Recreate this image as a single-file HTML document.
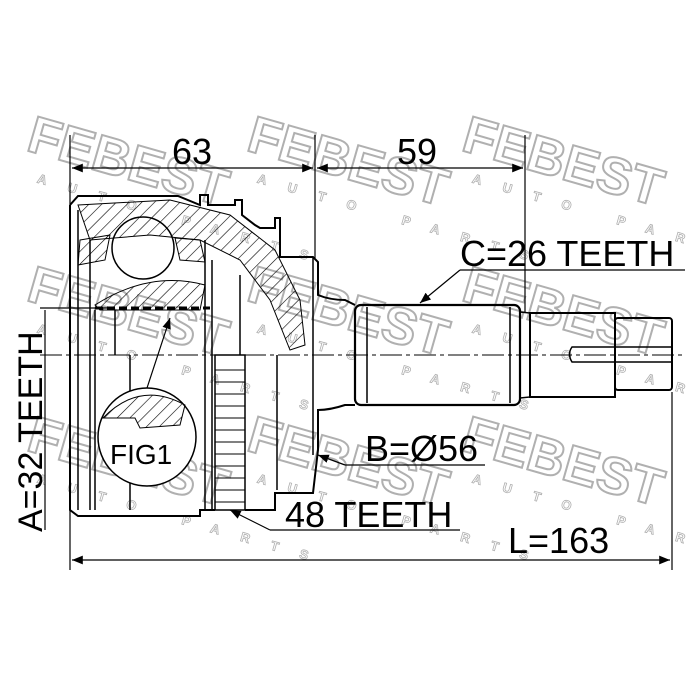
<!DOCTYPE html>
<html><head><style>
html,body{margin:0;padding:0;background:#fff}
svg{display:block}
text{font-family:"Liberation Sans",Arial,sans-serif}
</style></head><body>
<svg width="700" height="700" viewBox="0 0 700 700" xmlns="http://www.w3.org/2000/svg">
<defs>
<marker id="ar" viewBox="0 0 10 10" refX="10" refY="5" markerWidth="9" markerHeight="9" orient="auto-start-reverse"><path d="M0,1 L10,5 L0,9 z" fill="#000"/></marker>
<pattern id="hatch" width="9" height="9" patternUnits="userSpaceOnUse" patternTransform="rotate(45)"><line x1="0" y1="0" x2="0" y2="9" stroke="#000" stroke-width="1.2"/></pattern>
</defs>
<g fill="none" stroke="#b0b0b0" stroke-width="2" font-weight="bold">
 <g transform="translate(25,150) rotate(16)"><text x="0" y="0" font-size="52">FEBEST</text><text x="20" y="28" font-size="13" stroke-width="0.8" letter-spacing="22">AUTO PARTS</text></g>
 <g transform="translate(245,150) rotate(16)"><text x="0" y="0" font-size="52">FEBEST</text><text x="20" y="28" font-size="13" stroke-width="0.8" letter-spacing="22">AUTO PARTS</text></g>
 <g transform="translate(460,150) rotate(16)"><text x="0" y="0" font-size="52">FEBEST</text><text x="20" y="28" font-size="13" stroke-width="0.8" letter-spacing="22">AUTO PARTS</text></g>
 <g transform="translate(25,300) rotate(16)"><text x="0" y="0" font-size="52">FEBEST</text><text x="20" y="28" font-size="13" stroke-width="0.8" letter-spacing="22">AUTO PARTS</text></g>
 <g transform="translate(245,300) rotate(16)"><text x="0" y="0" font-size="52">FEBEST</text><text x="20" y="28" font-size="13" stroke-width="0.8" letter-spacing="22">AUTO PARTS</text></g>
 <g transform="translate(460,300) rotate(16)"><text x="0" y="0" font-size="52">FEBEST</text><text x="20" y="28" font-size="13" stroke-width="0.8" letter-spacing="22">AUTO PARTS</text></g>
 <g transform="translate(25,450) rotate(16)"><text x="0" y="0" font-size="52">FEBEST</text><text x="20" y="28" font-size="13" stroke-width="0.8" letter-spacing="22">AUTO PARTS</text></g>
 <g transform="translate(245,450) rotate(16)"><text x="0" y="0" font-size="52">FEBEST</text><text x="20" y="28" font-size="13" stroke-width="0.8" letter-spacing="22">AUTO PARTS</text></g>
 <g transform="translate(460,450) rotate(16)"><text x="0" y="0" font-size="52">FEBEST</text><text x="20" y="28" font-size="13" stroke-width="0.8" letter-spacing="22">AUTO PARTS</text></g>
</g>

<g stroke="#000" fill="none" stroke-width="1.5">
 <path d="M78,205 L170,200 L230,215 L275,250 L300,300 L305,345 L290,350 L270,300 L240,260 L200,240 L150,235 L90,240 Z" fill="url(#hatch)" stroke-width="1"/>
 <path d="M80,240 L110,235 L105,260 L78,265 Z" fill="url(#hatch)" stroke-width="1"/>
 <path d="M175,238 L200,240 L205,262 L180,260 Z" fill="url(#hatch)" stroke-width="1"/>
 <path d="M95,305 Q150,270 205,285 L200,310 L100,310 Z" fill="url(#hatch)" stroke-width="1"/>
 <path d="M70,205 L78,196 L178,196 L200,205 L200,195 L208,195 L208,205 L235,205 L235,200 L242,200 L242,215 L255,225 L260,228 L275,228 L275,218 L280,218 L280,257 L313,257 L318,262 L318,295 Q330,300 345,300 L355,305" stroke-width="2"/>
 <path d="M70,205 L70,510 L78,516 L200,516 L200,510 L215,510" stroke-width="2"/>
 <path d="M245,510 L275,510 L275,493 L313,493 L318,450 L318,410 Q330,410 345,405 L355,405" stroke-width="2"/>
 <line x1="313" y1="257" x2="313" y2="455"/>
 <line x1="78" y1="210" x2="78" y2="510"/>
 <line x1="90" y1="240" x2="90" y2="510"/>
 <line x1="95" y1="310" x2="95" y2="510"/>
 <line x1="115" y1="310" x2="115" y2="355"/>
 <line x1="130" y1="355" x2="130" y2="510"/>
 <line x1="205" y1="240" x2="205" y2="510"/>
 <line x1="212" y1="260" x2="212" y2="510"/>
 <line x1="240" y1="275" x2="240" y2="355"/>
 <line x1="277" y1="355" x2="277" y2="490"/>
 <circle cx="143" cy="248" r="31"/>
 <line x1="95" y1="308" x2="210" y2="308" stroke-width="3" stroke-dasharray="8,4"/>
 <rect x="215" y="355" width="30" height="155"/>
 <g stroke-width="1">
  <line x1="215" y1="370" x2="245" y2="370"/><line x1="215" y1="382" x2="245" y2="382"/><line x1="215" y1="394" x2="245" y2="394"/><line x1="215" y1="406" x2="245" y2="406"/><line x1="215" y1="418" x2="245" y2="418"/><line x1="215" y1="430" x2="245" y2="430"/><line x1="215" y1="442" x2="245" y2="442"/><line x1="215" y1="454" x2="245" y2="454"/><line x1="215" y1="466" x2="245" y2="466"/><line x1="215" y1="478" x2="245" y2="478"/><line x1="215" y1="490" x2="245" y2="490"/><line x1="215" y1="502" x2="245" y2="502"/>
 </g>
 <rect x="355" y="305" width="165" height="100" rx="6" stroke-width="2.2"/>
 <line x1="367" y1="307" x2="367" y2="403"/>
 <line x1="510" y1="307" x2="510" y2="403"/>
 <path d="M520,312 L530,313 L530,397 L520,398"/>
 <rect x="530" y="313" width="85" height="84" stroke-width="2"/>
 <rect x="615" y="318" width="57" height="72" rx="3" stroke-width="2"/>
 <path d="M672,347 L572,347 Q567,354 572,362 L672,362"/>
 <circle cx="147" cy="437" r="49" fill="#fff"/>
 <path d="M103,418 Q140,380 185,405 L180,425 L140,428 L135,418 Z" fill="url(#hatch)" stroke-width="1"/>
 <line x1="147" y1="388" x2="170" y2="318" marker-end="url(#ar)" stroke-width="1.2"/>
 <line x1="40" y1="355" x2="685" y2="355" stroke-width="1" stroke-dasharray="22,4,4,4"/>
 <g stroke-width="1.2">
  <line x1="70" y1="135" x2="70" y2="570"/>
  <line x1="315" y1="135" x2="315" y2="258"/>
  <line x1="525" y1="135" x2="525" y2="312"/>
  <line x1="672" y1="392" x2="672" y2="570"/>
  <line x1="72" y1="168" x2="313" y2="168" marker-start="url(#ar)" marker-end="url(#ar)"/>
  <line x1="317" y1="168" x2="523" y2="168" marker-start="url(#ar)" marker-end="url(#ar)"/>
  <line x1="72" y1="560" x2="670" y2="560" marker-start="url(#ar)" marker-end="url(#ar)"/>
  <line x1="40" y1="308" x2="110" y2="308"/>
  <line x1="45" y1="310" x2="45" y2="530"/>
  <line x1="460" y1="270" x2="685" y2="270"/>
  <line x1="460" y1="270" x2="420" y2="303" marker-end="url(#ar)"/>
  <line x1="485" y1="465" x2="345" y2="465"/>
  <line x1="345" y1="465" x2="318" y2="455" marker-end="url(#ar)"/>
  <line x1="460" y1="530" x2="270" y2="530"/>
  <line x1="270" y1="530" x2="230" y2="510" marker-end="url(#ar)"/>
 </g>
</g>
<g fill="#000" font-size="36">
 <text x="172" y="164">63</text>
 <text x="397" y="164">59</text>
 <text x="460" y="266">C=26 TEETH</text>
 <text x="365" y="461">B=Ø56</text>
 <text x="285" y="527">48 TEETH</text>
 <text x="508" y="553">L=163</text>
 <text x="110" y="464" font-size="28">FIG1</text>
 <text transform="translate(42,532) rotate(-90)" font-size="34">A=32 TEETH</text>
</g>
</svg>
</body></html>
